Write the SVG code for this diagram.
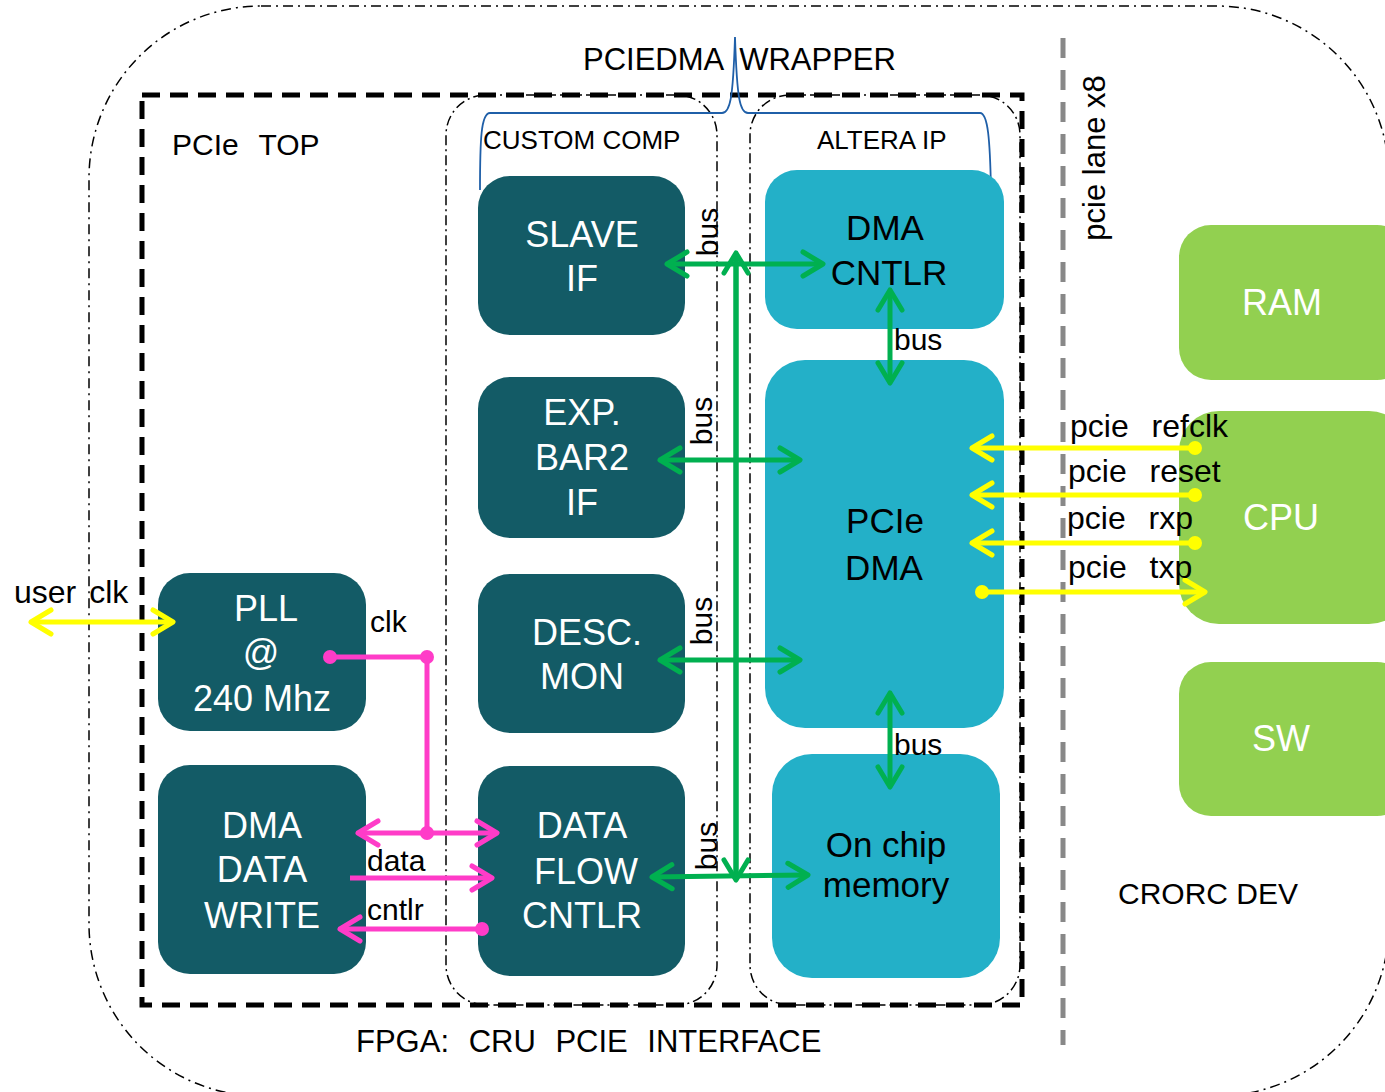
<svg xmlns="http://www.w3.org/2000/svg" width="1385" height="1092" viewBox="0 0 1385 1092">
<style>
text{font-family:"Liberation Sans",Arial,sans-serif}
.dark rect{fill:#135B66}
.dark text{fill:#fff;font-size:36px;text-anchor:middle}
.cyan rect{fill:#23B0C8}
.cyan text{fill:#000;font-size:35px;text-anchor:middle}
.grn rect{fill:#92D050}
.grn text{fill:#fff;font-size:36px;text-anchor:middle}
.lbl{fill:#000;font-size:30px}
.sig{fill:#000;font-size:32px;word-spacing:14px}
.g{stroke:#00B050;stroke-width:5;fill:none}
.y{stroke:#FFFF00;stroke-width:5;fill:none}
.m{stroke:#FF3CC8;stroke-width:5;fill:none}
</style>
<defs>
<marker id="ag" viewBox="-26 -16 32 32" refX="0" refY="0" markerWidth="32" markerHeight="32" markerUnits="userSpaceOnUse" orient="auto-start-reverse"><path d="M-20,-12 L0,0 L-20,12" fill="none" stroke="#00B050" stroke-width="5" stroke-linecap="round" stroke-linejoin="round"/></marker>
<marker id="ay" viewBox="-26 -16 32 32" refX="0" refY="0" markerWidth="32" markerHeight="32" markerUnits="userSpaceOnUse" orient="auto-start-reverse"><path d="M-20,-12 L0,0 L-20,12" fill="none" stroke="#FFFF00" stroke-width="5" stroke-linecap="round" stroke-linejoin="round"/></marker>
<marker id="am" viewBox="-26 -16 32 32" refX="0" refY="0" markerWidth="32" markerHeight="32" markerUnits="userSpaceOnUse" orient="auto-start-reverse"><path d="M-20,-12 L0,0 L-20,12" fill="none" stroke="#FF3CC8" stroke-width="5" stroke-linecap="round" stroke-linejoin="round"/></marker>
</defs>
<rect width="1385" height="1092" fill="#fff"/>

<g id="containers">
<rect x="89" y="6" width="1300" height="1090" rx="172" fill="none" stroke="#000" stroke-width="1.5" stroke-dasharray="10 5 2 5"/>
<rect x="446" y="95" width="271" height="910" rx="40" fill="none" stroke="#000" stroke-width="1.5" stroke-dasharray="10 4 2 4"/>
<rect x="750" y="95" width="270" height="910" rx="40" fill="none" stroke="#000" stroke-width="1.5" stroke-dasharray="10 4 2 4"/>
<rect x="142" y="95" width="880" height="910" fill="none" stroke="#000" stroke-width="5" stroke-dasharray="18 10"/>
<line x1="1063" y1="38" x2="1063" y2="1045" stroke="#888" stroke-width="5" stroke-dasharray="20 12"/>
<path d="M480,190 C480,140 481,113 490,113 L722,113 C730,113 733,100 735,37 C737,100 740,113 748,113 L980,113 C988,113 990,140 991,190" fill="none" stroke="#1F5FA8" stroke-width="1.8"/>
<text class="lbl" x="583" y="70" style="font-size:31px;word-spacing:8px">PCIEDMA WRAPPER</text>
<text class="lbl" x="172" y="155" style="word-spacing:12px">PCIe TOP</text>
<text class="lbl" x="483" y="149" style="font-size:26px">CUSTOM COMP</text>
<text class="lbl" x="817" y="149" style="font-size:26px">ALTERA IP</text>
<text class="lbl" x="356" y="1052" style="font-size:31px;word-spacing:11px">FPGA: CRU PCIE INTERFACE</text>
<text class="lbl" x="1118" y="904">CRORC DEV</text>
<text class="lbl" transform="translate(1105,158) rotate(-90)" text-anchor="middle" style="font-size:31px">pcie lane x8</text>
</g>

<g id="slave-if" class="dark"><rect x="478" y="176" width="207" height="159" rx="32"/><text x="582" y="247">SLAVE</text><text x="582" y="291">IF</text></g>
<g id="exp-bar2-if" class="dark"><rect x="478" y="377" width="207" height="161" rx="32"/><text x="582" y="425">EXP.</text><text x="582" y="470">BAR2</text><text x="582" y="515">IF</text></g>
<g id="desc-mon" class="dark"><rect x="478" y="574" width="207" height="159" rx="32"/><text x="587" y="645">DESC.</text><text x="582" y="689">MON</text></g>
<g id="data-flow-cntlr" class="dark"><rect x="478" y="766" width="207" height="210" rx="32"/><text x="582" y="838">DATA</text><text x="586" y="884">FLOW</text><text x="582" y="928">CNTLR</text></g>
<g id="pll" class="dark"><rect x="158" y="573" width="208" height="158" rx="32"/><text x="266" y="621">PLL</text><text x="261" y="665">@</text><text x="262" y="711">240 Mhz</text></g>
<g id="dma-data-write" class="dark"><rect x="158" y="765" width="208" height="209" rx="32"/><text x="262" y="838">DMA</text><text x="262" y="882">DATA</text><text x="262" y="928">WRITE</text></g>
<g id="dma-cntlr" class="cyan"><rect x="765" y="170" width="239" height="159" rx="32"/><text x="885" y="240">DMA</text><text x="889" y="285">CNTLR</text></g>
<g id="pcie-dma" class="cyan"><rect x="765" y="360" width="239" height="368" rx="40"/><text x="885" y="533">PCIe</text><text x="884" y="580">DMA</text></g>
<g id="on-chip-memory" class="cyan"><rect x="772" y="754" width="228" height="224" rx="40"/><text x="886" y="857">On chip</text><text x="886" y="897">memory</text></g>
<g id="ram" class="grn"><rect x="1179" y="225" width="230" height="155" rx="32"/><text x="1282" y="315">RAM</text></g>
<g id="cpu" class="grn"><rect x="1179" y="411" width="230" height="213" rx="40"/><text x="1281" y="530">CPU</text></g>
<g id="sw" class="grn"><rect x="1179" y="662" width="230" height="154" rx="32"/><text x="1281" y="751">SW</text></g>

<g id="connectors">
<line class="g" x1="736" y1="880" x2="736" y2="253" marker-end="url(#ag)"/>
<line class="g" x1="736" y1="253" x2="736" y2="880" marker-end="url(#ag)"/>
<line class="g" x1="667" y1="264" x2="823" y2="264" marker-start="url(#ag)" marker-end="url(#ag)"/>
<line class="g" x1="660" y1="460" x2="800" y2="460" marker-start="url(#ag)" marker-end="url(#ag)"/>
<line class="g" x1="660" y1="660" x2="800" y2="660" marker-start="url(#ag)" marker-end="url(#ag)"/>
<line class="g" x1="652" y1="877" x2="808" y2="875" marker-start="url(#ag)" marker-end="url(#ag)"/>
<line class="g" x1="890" y1="290" x2="890" y2="383" marker-start="url(#ag)" marker-end="url(#ag)"/>
<line class="g" x1="890" y1="693" x2="890" y2="787" marker-start="url(#ag)" marker-end="url(#ag)"/>

<line class="y" x1="31" y1="622" x2="173" y2="622" marker-start="url(#ay)" marker-end="url(#ay)"/>
<line class="y" x1="1195" y1="448" x2="972" y2="448" marker-end="url(#ay)"/>
<line class="y" x1="1195" y1="495" x2="972" y2="495" marker-end="url(#ay)"/>
<line class="y" x1="1195" y1="543" x2="972" y2="543" marker-end="url(#ay)"/>
<line class="y" x1="982" y1="592" x2="1205" y2="592" marker-end="url(#ay)"/>
<g fill="#FFFF00"><circle cx="1195" cy="448" r="7"/><circle cx="1195" cy="495" r="7"/><circle cx="1195" cy="543" r="7"/><circle cx="982" cy="592" r="7"/></g>

<polyline class="m" points="330,657 427,657 427,833"/>
<line class="m" x1="358" y1="833" x2="497" y2="833" marker-start="url(#am)" marker-end="url(#am)"/>
<line class="m" x1="350" y1="878" x2="492" y2="878" marker-end="url(#am)"/>
<line class="m" x1="482" y1="929" x2="340" y2="929" marker-end="url(#am)"/>
<g fill="#FF3CC8"><circle cx="330" cy="657" r="7"/><circle cx="427" cy="657" r="7"/><circle cx="427" cy="833" r="7"/><circle cx="482" cy="929" r="7"/></g>

<text class="lbl" transform="translate(718,232) rotate(-90)" text-anchor="middle">bus</text>
<text class="lbl" transform="translate(712,421) rotate(-90)" text-anchor="middle">bus</text>
<text class="lbl" transform="translate(712,621) rotate(-90)" text-anchor="middle">bus</text>
<text class="lbl" transform="translate(717,846) rotate(-90)" text-anchor="middle">bus</text>
<text class="lbl" x="894" y="350">bus</text>
<text class="lbl" x="894" y="755">bus</text>
<text class="sig" x="1070" y="437">pcie refclk</text>
<text class="sig" x="1068" y="482">pcie reset</text>
<text class="sig" x="1067" y="529">pcie rxp</text>
<text class="sig" x="1068" y="578">pcie txp</text>
<text class="lbl" x="14" y="603" style="font-size:32px;word-spacing:4px">user clk</text>
<text class="lbl" x="370" y="632">clk</text>
<text class="lbl" x="367" y="871">data</text>
<text class="lbl" x="367" y="920">cntlr</text>
</g>
</svg>
